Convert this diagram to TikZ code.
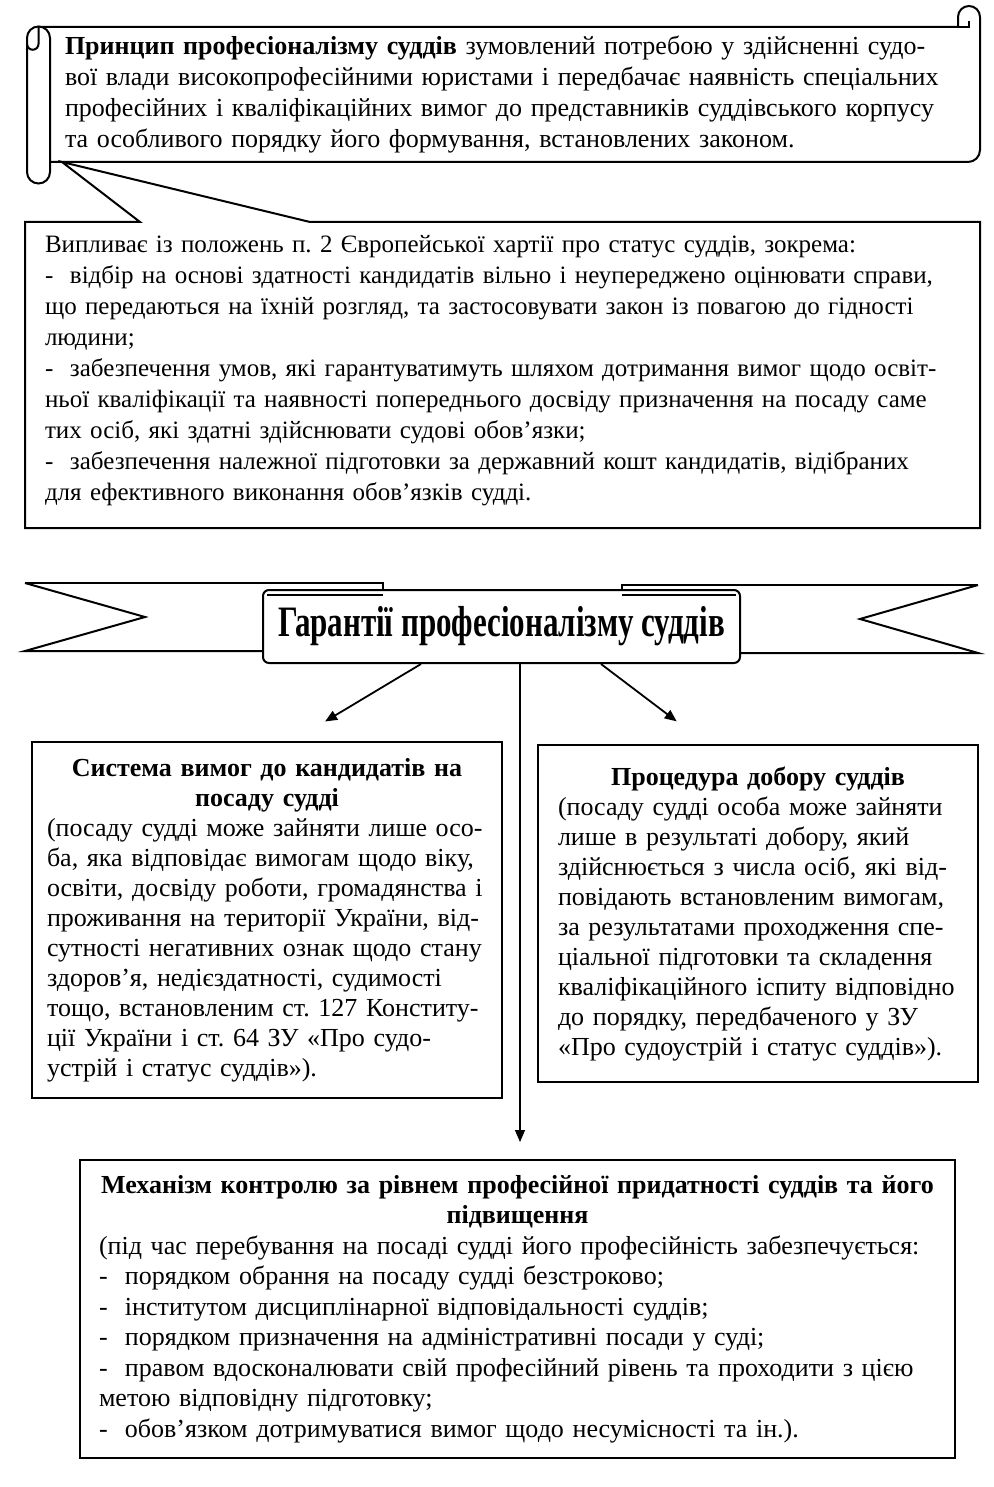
\documentclass[tikz,border=0pt]{standalone}
\usepackage{fontspec}
\setmainfont{Liberation Serif}
\usepackage{tikz}
\usetikzlibrary{arrows.meta}
\setlength{\parindent}{0pt}
\frenchspacing

\begin{document}
\begin{tikzpicture}[x=0.5pt,y=-0.5pt,line width=1pt,
  tekst/.style={align=left,inner sep=0pt,font=\fontsize{13}{15.5}\selectfont},
  blok/.style={draw,fill=white,align=left,inner ysep=0pt,font=\fontsize{13}{15}\selectfont},
  strilka/.style={-{Triangle[length=6pt,width=5pt]},line width=0.9pt}]
  \useasboundingbox[fill=white] (0,0) rectangle (993,1487);

  \fill[white] (38,27) rectangle (980,162);
  \draw (38.5,27) -- (958,27) -- (958,17) arc (180:360:11) [rounded corners=6pt] -- (980,162) -- (50,162);
  \draw (958,27) -- (969,27) -- (969,21);
  \draw[fill=white] (27,172) -- (27,38) arc (180:360:11.5) -- (50,172) arc (0:180:11.5) -- cycle;
  \draw (38.5,27) -- (38.5,44) arc (0:180:5.75);
  \draw[fill=white] (140,222) -- (62,162) -- (310,222) -- (980,222) -- (980,528) -- (25,528) -- (25,222) -- cycle;

  \node[tekst,text width=437.5pt] (princip) at (502.5,95) {\textbf{Принцип професіоналізму суддів} зумовлений потребою у здійсненні судо-\\
    вої влади високопрофесійними юристами і передбачає наявність спеціальних\\
    професійних і кваліфікаційних вимог до представників суддівського корпусу\\
    та особливого порядку його формування, встановлених законом.};
  \node[tekst,text width=457.5pt,font=\fontsize{12.5}{15.5}\selectfont] (polozhennia) at (502.5,371) {Випливає із положень п. 2 Європейської хартії про статус суддів, зокрема:\\
    - \ відбір на основі здатності кандидатів вільно і неупереджено оцінювати справи,\\
    що передаються на їхній розгляд, та застосовувати закон із повагою до гідності\\
    людини;\\
    - \ забезпечення умов, які гарантуватимуть шляхом дотримання вимог щодо освіт-\\
    ньої кваліфікації та наявності попереднього досвіду призначення на посаду саме\\
    тих осіб, які здатні здійснювати судові обов’язки;\\
    - \ забезпечення належної підготовки за державний кошт кандидатів, відібраних\\
    для ефективного виконання обов’язків судді.};

  \draw (25,583) -- (383,583) -- (383,592);
  \draw (25,583) -- (145,617) -- (25,651) -- (263,651);
  \draw (978,585) -- (622,585) -- (622,592);
  \draw (978,585) -- (860,619) -- (978,653) -- (740,653);
  \node[draw,fill=white,rounded corners=3pt,minimum width=238.5pt,minimum height=36.5pt,
    font=\bfseries\fontsize{15.5}{17}\selectfont] (garant) at (501.5,626.5) {\scalebox{1}[1.4]{Гарантії професіоналізму суддів}};
  \draw[line width=0.6pt] (267,595) -- (383,595) (622,595) -- (736,595);

  \node[blok,text width=220pt,inner xsep=7.5pt,minimum height=178pt] (vymogy) at (267,920) {\makebox[\hsize]{\bfseries Система вимог до кандидатів на}\\
    \makebox[\hsize]{\bfseries посаду судді}\\
    (посаду судді може зайняти лише осо-\\
    ба, яка відповідає вимогам щодо віку,\\
    освіти, досвіду роботи, громадянства і\\
    проживання на території України, від-\\
    сутності негативних ознак щодо стану\\
    здоров’я, недієздатності, судимості\\
    тощо, встановленим ст. 127 Конститу-\\
    ції України і ст. 64 ЗУ «Про судо-\\
    устрій і статус суддів»).};
  \node[blok,text width=200pt,inner xsep=10pt,minimum height=168.5pt] (dobir) at (758,913.5) {\makebox[\hsize]{\bfseries Процедура добору суддів}\\
    (посаду судді особа може зайняти\\
    лише в результаті добору, який\\
    здійснюється з числа осіб, які від-\\
    повідають встановленим вимогам,\\
    за результатами проходження спе-\\
    ціальної підготовки та складення\\
    кваліфікаційного іспиту відповідно\\
    до порядку, передбаченого у ЗУ\\
    «Про судоустрій і статус суддів»).};
  \node[blok,text width=418.5pt,inner xsep=9.5pt,minimum height=149pt,
    font=\fontsize{13}{15.25}\selectfont] (mekhanizm) at (517.5,1309) {\makebox[\hsize]{\bfseries Механізм контролю за рівнем професійної придатності суддів та його}\\
    \makebox[\hsize]{\bfseries підвищення}\\
    (під час перебування на посаді судді його професійність забезпечується:\\
    - \ порядком обрання на посаду судді безстроково;\\
    - \ інститутом дисциплінарної відповідальності суддів;\\
    - \ порядком призначення на адміністративні посади у суді;\\
    - \ правом вдосконалювати свій професійний рівень та проходити з цією\\
    метою відповідну підготовку;\\
    - \ обов’язком дотримуватися вимог щодо несумісності та ін.).};

  \draw[strilka,shorten >=19pt] ([xshift=-40.25pt]garant.south) -- ([xshift=12.75pt]vymogy.north);
  \draw[strilka,shorten >=18.75pt] ([xshift=49.75pt]garant.south) -- ([xshift=-25.7pt]dobir.north);
  \draw[strilka,line width=0.6pt,shorten >=8.5pt] ([xshift=9.25pt]garant.south) -- ([xshift=1.25pt]mekhanizm.north);
\end{tikzpicture}
\end{document}
